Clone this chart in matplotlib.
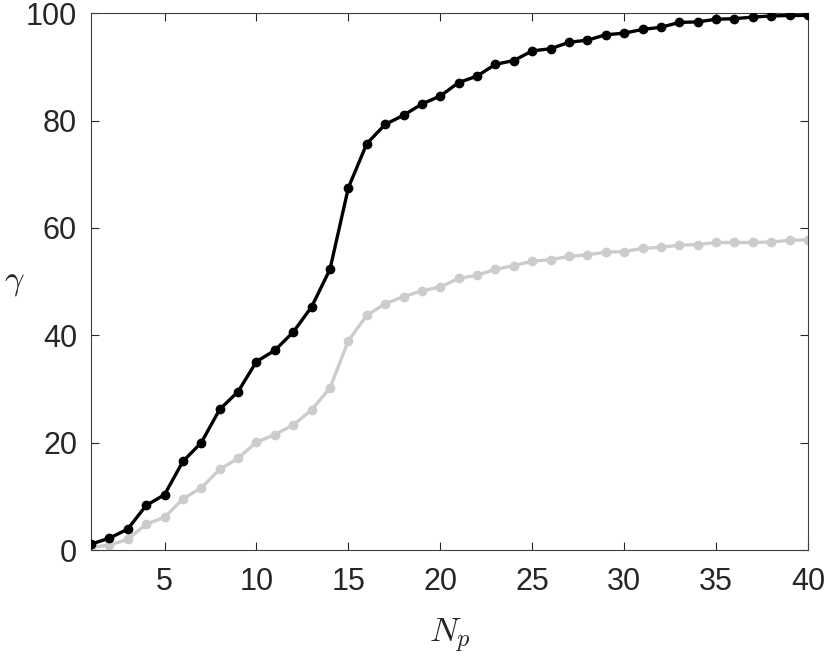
import numpy as np
import matplotlib.pyplot as plt

# === DATA ===
n_p = np.arange(1, 41)
gamma_black = [1.1, 2.2, 3.9, 8.3, 10.3, 16.5, 20.0, 26.2, 29.5, 35.1,
               37.2, 40.6, 45.3, 52.3, 67.5, 75.7, 79.3, 81.0, 83.1, 84.6,
               87.1, 88.3, 90.5, 91.2, 93.0, 93.4, 94.6, 95.0, 96.0, 96.3,
               97.0, 97.4, 98.3, 98.4, 98.9, 99.0, 99.3, 99.5, 99.6, 99.6]
gamma_gray = [0.5, 0.9, 2.0, 4.8, 6.1, 9.5, 11.6, 15.0, 17.1, 20.1,
              21.5, 23.3, 26.1, 30.2, 39.0, 43.7, 45.9, 47.2, 48.3, 49.0,
              50.6, 51.2, 52.3, 53.0, 53.8, 54.1, 54.7, 55.0, 55.5, 55.6,
              56.2, 56.4, 56.8, 56.9, 57.3, 57.3, 57.3, 57.4, 57.7, 57.8]

xticks = [5, 10, 15, 20, 25, 30, 35, 40]
yticks = [0, 20, 40, 60, 80, 100]

# === STYLE ===
plt.rcParams['font.family'] = ['Liberation Sans', 'DejaVu Sans']
plt.rcParams['mathtext.fontset'] = 'cm'

fig = plt.figure(figsize=(8.3, 6.59), dpi=100)
ax = fig.add_axes([0.1096, 0.1654, 0.8639, 0.8144])

ax.plot(n_p, gamma_gray, color='#cccccc', lw=2.4, marker='o', ms=6, zorder=2)
ax.plot(n_p, gamma_black, color='black', lw=2.4, marker='o', ms=6, zorder=3)

ax.set_xlim(1, 40)
ax.set_ylim(0, 100)
ax.set_xticks(xticks)
ax.set_yticks(yticks)
ax.tick_params(direction='in', length=5.5, width=0.8, colors='#262626',
               labelsize=22, top=True, right=True)
ax.tick_params(axis='x', pad=12)
ax.tick_params(axis='y', pad=10)
for s in ax.spines.values():
    s.set_color('#404040')
    s.set_linewidth(0.8)

ax.set_xlabel(r'$N_p$', fontsize=25, color='#262626')
ax.xaxis.set_label_coords(0.5, -0.125)
ax.set_ylabel(r'$\gamma$', fontsize=25, color='#262626', rotation=0,
              ha='center', va='center')
ax.yaxis.set_label_coords(-0.107, 0.5)

fig.savefig('out.png', dpi=100)
